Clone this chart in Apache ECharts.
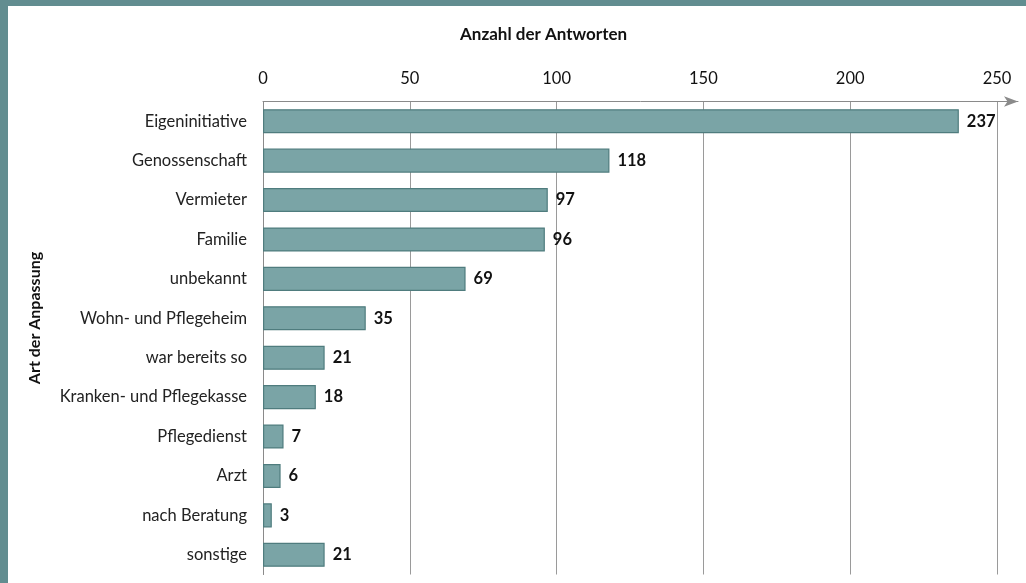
<!DOCTYPE html>
<html><head><meta charset="utf-8">
<script src="https://cdn.jsdelivr.net/npm/echarts@6/dist/echarts.min.js"></script>
<style>
html,body{margin:0;padding:0;background:#628d90;width:1026px;height:583px;overflow:hidden;}
#c{position:absolute;left:8px;top:6px;width:1018px;height:577px;background:#fff;}
</style></head><body>
<div id="c"></div>
<script>
const categories = ["Eigeninitiative","Genossenschaft","Vermieter","Familie","unbekannt","Wohn- und Pflegeheim","war bereits so","Kranken- und Pflegekasse","Pflegedienst","Arzt","nach Beratung","sonstige"];
const values = [237,118,97,96,69,35,21,18,7,6,3,21];
const xTicks = [0,50,100,150,200,250];
const xTitle = "Anzahl der Antworten";
const yTitle = "Art der Anpassung";
const FONT = "Lato";
const chart = echarts.init(document.getElementById('c'));
chart.setOption({
  animation:false,
  textStyle:{fontFamily:FONT},
  title:{text:xTitle,left:447,top:15,textStyle:{fontFamily:FONT,fontSize:17,fontWeight:'bold',color:'#111'}},
  graphic:[{type:'text',x:27,y:312,rotation:Math.PI/2,style:{text:yTitle,font:'bold 16px '+FONT,fill:'#111',textAlign:'center',textVerticalAlign:'middle'}}],
  grid:{left:255,right:8,top:95.5,bottom:8.5,containLabel:false},
  xAxis:{type:'value',position:'top',min:0,max:257.15,interval:50,
    axisLine:{show:true,lineStyle:{color:'#8a8a8a',width:1},symbol:['none','arrow'],symbolSize:[8,14]},
    axisTick:{show:false},
    axisLabel:{show:true,margin:14,fontSize:16.5,color:'#111',fontFamily:FONT,showMaxLabel:false,
      formatter:v=>xTicks.includes(v)?String(v):''},
    splitLine:{show:true,showMaxLine:false,lineStyle:{color:'#9a9a9a',width:1}}},
  yAxis:{type:'category',data:categories,inverse:true,
    axisLine:{show:true,lineStyle:{color:'#8a8a8a',width:1}},
    axisTick:{show:false},
    axisLabel:{margin:16,fontSize:16.5,color:'#222',fontFamily:FONT}},
  series:[{type:'bar',data:values,barWidth:'61%',
    itemStyle:{color:'#7aa4a6',borderColor:'#4f7c7e',borderWidth:1.2},
    label:{show:true,position:'right',distance:8,fontSize:16.5,fontWeight:'bold',color:'#111',fontFamily:FONT}}]
});
</script></body></html>
